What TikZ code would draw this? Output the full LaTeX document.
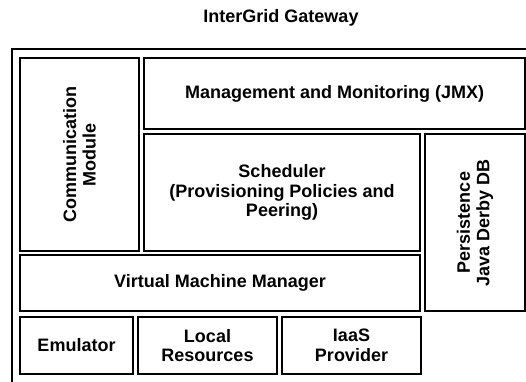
\documentclass[tikz,border=0pt]{standalone}
\usepackage{fontspec}
\setmainfont{Liberation Sans}
\usepackage{tikz}
\usetikzlibrary{positioning}

\begin{document}
\begin{tikzpicture}[x=1pt, y=-1pt,
    part/.style = {draw, rectangle, line width=1.7pt, inner sep=0pt, align=center,
                   font=\fontsize{18}{19.5}\selectfont\bfseries},
    frame/.style = {draw, line width=1.7pt},
    title/.style = {font=\fontsize{18}{20}\selectfont\bfseries}]
            \useasboundingbox (0,0) rectangle (526,381);
            \clip (0,0) rectangle (526,381);
            \node[title] (gw) at (281,18) {InterGrid Gateway};
            \draw[frame] (12,49) rectangle (540,395);

            \node[part, rotate=90, minimum width=193, minimum height=119] (comm) at (79.5,154.5) {Communication\\Module};
            \node[part, minimum width=381, minimum height=71] (mgmt) at (334.5,93.5) {Management and Monitoring (JMX)};
            \node[part, minimum width=276, minimum height=117] (sched) at (282,192.5) {Scheduler\\(Provisioning Policies and\\Peering)};
            \node[part, rotate=90, minimum width=177, minimum height=100] (pers) at (475,222.5) {Persistence\\Java Derby DB};
            \node[part, minimum width=400, minimum height=56] (vmm) at (220,283) {Virtual Machine Manager};
            \node[part, minimum width=113, minimum height=57] (emu) at (76.5,345.5) {Emulator};
            \node[part, minimum width=139, minimum height=57] (local) at (207.5,345.5) {Local\\Resources};
            \node[part, minimum width=139, minimum height=57] (iaas) at (351.5,345.5) {IaaS\\Provider};
        \end{tikzpicture}
\end{document}
